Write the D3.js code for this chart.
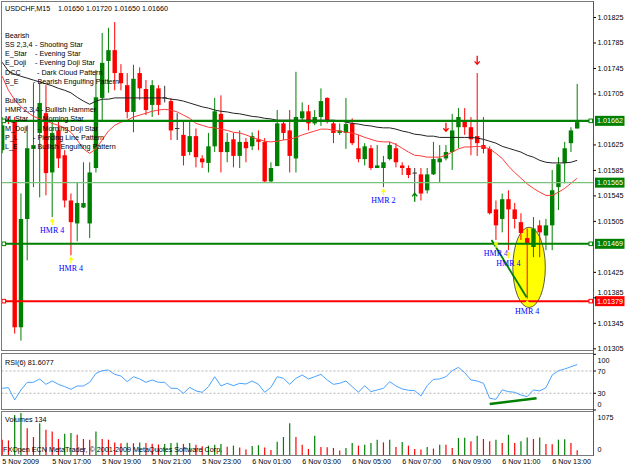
<!DOCTYPE html>
<html><head><meta charset="utf-8">
<script src="https://cdn.jsdelivr.net/npm/d3@7/dist/d3.min.js"></script>
<style>
body{margin:0;background:#fff;}
svg{display:block;font-family:"Liberation Sans",Arial,sans-serif;}
</style>
</head><body>
<svg id="chart" width="625" height="469"></svg>
<script>
// ---------------- DATA ----------------
const symbol = "USDCHF,M15";
const opens = [1.01616,1.01663,1.01663,1.01338,1.01508,1.01618,1.01643,1.01674,1.01581,1.01647,
1.01608,1.01537,1.01501,1.01526,1.01501,1.01588,1.01698,1.01756,1.01773,1.01737,
1.01718,1.01676,1.01737,1.01712,1.01687,1.01713,1.01698,1.01693,1.01650,1.01640,
1.01613,1.01638,1.01603,1.01596,1.01622,1.01673,1.01613,1.01633,1.01607,1.01629,
1.01622,1.01633,1.01629,1.01567,1.01591,1.01658,1.01647,1.01603,1.01666,1.01677,
1.01658,1.01668,1.01698,1.01658,1.01643,1.01643,1.01658,1.01619,1.01602,1.01619,
1.01588,1.01588,1.01602,1.01619,1.01592,1.01588,1.01580,1.01578,1.01553,1.01578,
1.01597,1.01603,1.01613,1.01652,1.01663,1.01652,1.01638,1.01624,1.01618,1.01523,
1.01508,1.01539,1.01523,1.01503,1.01478,1.01464,1.01498,1.01482,1.01498,1.01558,
1.01596,1.01627,1.01650];
const highs = [1.01668,1.01669,1.01668,1.01548,1.01655,1.01721,1.01721,1.01718,1.01663,1.01663,
1.01616,1.01548,1.01566,1.01597,1.01597,1.01742,1.01800,1.01808,1.01817,1.01751,
1.01737,1.01750,1.01746,1.01726,1.01726,1.01718,1.01717,1.01698,1.01674,1.01663,
1.01663,1.01650,1.01608,1.01643,1.01698,1.01702,1.01643,1.01643,1.01647,1.01635,
1.01644,1.01647,1.01635,1.01597,1.01679,1.01663,1.01679,1.01739,1.01691,1.01687,
1.01679,1.01713,1.01699,1.01663,1.01658,1.01698,1.01666,1.01640,1.01627,1.01624,
1.01624,1.01607,1.01629,1.01627,1.01597,1.01592,1.01588,1.01588,1.01588,1.01629,
1.01624,1.01624,1.01673,1.01682,1.01682,1.01668,1.01737,1.01668,1.01622,1.01537,
1.01548,1.01553,1.01533,1.01517,1.01493,1.01511,1.01506,1.01508,1.01585,1.01605,
1.01629,1.01652,1.01720];
const lows = [1.01611,1.01657,1.01328,1.01317,1.01443,1.01558,1.01542,1.01545,1.01511,1.01588,
1.01526,1.01451,1.01473,1.01525,1.01478,1.01581,1.01663,1.01706,1.01710,1.01710,
1.01666,1.01644,1.01695,1.01671,1.01668,1.01671,1.01691,1.01632,1.01632,1.01592,
1.01608,1.01589,1.01588,1.01581,1.01613,1.01581,1.01597,1.01589,1.01588,1.01597,
1.01616,1.01616,1.01566,1.01566,1.01591,1.01632,1.01581,1.01581,1.01663,1.01647,
1.01655,1.01654,1.01658,1.01627,1.01640,1.01618,1.01624,1.01597,1.01592,1.01585,
1.01588,1.01558,1.01600,1.01589,1.01577,1.01572,1.01548,1.01537,1.01548,1.01577,
1.01566,1.01600,1.01585,1.01619,1.01640,1.01608,1.01607,1.01611,1.01515,1.01475,
1.01487,1.01459,1.01493,1.01475,1.01383,1.01448,1.01448,1.01459,1.01459,1.01522,
1.01564,1.01613,1.01650];
const closes = [1.01655,1.01662,1.01338,1.01508,1.01619,1.01624,1.01690,1.01580,1.01643,1.01603,
1.01537,1.01503,1.01533,1.01533,1.01581,1.01699,1.01753,1.01773,1.01737,1.01721,
1.01676,1.01728,1.01713,1.01679,1.01718,1.01687,1.01698,1.01647,1.01650,1.01607,
1.01638,1.01605,1.01597,1.01622,1.01677,1.01613,1.01629,1.01607,1.01629,1.01619,
1.01638,1.01629,1.01567,1.01588,1.01658,1.01643,1.01607,1.01668,1.01677,1.01658,
1.01668,1.01693,1.01663,1.01643,1.01647,1.01657,1.01627,1.01602,1.01622,1.01588,
1.01592,1.01597,1.01624,1.01597,1.01588,1.01577,1.01580,1.01548,1.01578,1.01602,
1.01603,1.01613,1.01647,1.01668,1.01652,1.01633,1.01627,1.01618,1.01517,1.01498,
1.01539,1.01523,1.01508,1.01486,1.01470,1.01493,1.01487,1.01498,1.01553,1.01594,
1.01619,1.01647,1.01660];
const slowMA = [1.01754,1.01740,1.01735,1.01732,1.01729,1.01726,1.01723,1.01720,1.01717,1.01713,
1.01710,1.01706,1.01699,1.01693,1.01688,1.01693,1.01696,1.01696,1.01698,1.01698,
1.01698,1.01698,1.01698,1.01698,1.01698,1.01698,1.01698,1.01696,1.01695,1.01693,
1.01690,1.01687,1.01684,1.01682,1.01679,1.01677,1.01676,1.01674,1.01673,1.01671,
1.01669,1.01668,1.01666,1.01665,1.01663,1.01663,1.01663,1.01663,1.01663,1.01663,
1.01663,1.01663,1.01663,1.01663,1.01662,1.01660,1.01658,1.01657,1.01655,1.01654,
1.01652,1.01651,1.01651,1.01649,1.01646,1.01644,1.01641,1.01640,1.01638,1.01638,
1.01636,1.01636,1.01636,1.01636,1.01636,1.01636,1.01635,1.01633,1.01630,1.01627,
1.01622,1.01619,1.01616,1.01613,1.01608,1.01605,1.01600,1.01597,1.01596,1.01596,
1.01596,1.01597,1.01600];
const fastMA = [1.01732,1.01710,1.01695,1.01684,1.01676,1.01669,1.01665,1.01662,1.01658,1.01655,
1.01651,1.01644,1.01632,1.01618,1.01611,1.01618,1.01632,1.01646,1.01655,1.01660,
1.01663,1.01668,1.01671,1.01674,1.01677,1.01679,1.01680,1.01679,1.01676,1.01671,
1.01666,1.01658,1.01655,1.01652,1.01651,1.01649,1.01647,1.01644,1.01643,1.01640,
1.01636,1.01633,1.01630,1.01629,1.01630,1.01632,1.01633,1.01636,1.01640,1.01643,
1.01646,1.01649,1.01649,1.01647,1.01646,1.01644,1.01643,1.01640,1.01636,1.01633,
1.01630,1.01629,1.01629,1.01625,1.01619,1.01613,1.01608,1.01607,1.01605,1.01605,
1.01605,1.01608,1.01613,1.01618,1.01621,1.01621,1.01622,1.01621,1.01618,1.01611,
1.01603,1.01591,1.01581,1.01572,1.01563,1.01556,1.01550,1.01545,1.01545,1.01550,
1.01556,1.01564,1.01572];
const rsiValues = [38.9,40.1,18.0,36.0,49.7,49.7,55.7,46.1,52.1,46.1,
41.9,37.2,43.1,43.1,49.7,65.8,70.6,71.8,64.0,61.0,
50.9,59.8,55.7,49.7,53.9,49.7,49.7,38.9,38.9,30.0,
40.7,34.2,31.8,41.9,59.8,43.1,47.9,43.7,47.9,46.7,
52.1,46.1,31.8,40.7,59.8,56.9,46.1,56.9,62.8,55.7,
59.8,64.0,53.9,46.1,47.9,52.1,41.9,31.8,43.7,33.0,
36.0,38.9,50.9,43.1,37.8,35.4,34.8,25.2,43.7,55.1,
55.7,59.8,70.6,76.6,67.0,53.9,52.1,47.9,21.0,19.2,
36.0,33.0,31.8,27.0,24.0,36.0,34.2,40.1,62.8,70.6,
73.6,77.7,81.6077];
const volumes = [400,383,1025,1075,692,467,817,650,608,417,
550,567,525,417,400,608,417,400,330,310,
325,310,330,315,300,280,292,317,325,292,
317,275,233,250,275,290,220,250,200,150,
240,260,200,140,350,467,817,467,275,167,
500,217,210,192,125,192,317,250,275,317,
400,333,400,217,342,250,167,150,217,175,
275,270,192,442,450,358,500,417,358,400,
317,525,317,358,458,417,458,292,285,400,
410,317,134];
// 1.01665 and 1.01465 are hidden behind the level boxes in the reference
const priceTicks = [1.01305,1.01345,1.01385,1.01425,1.01505,1.01545,1.01585,1.01625,1.01705,1.01745,1.01785,1.01825];
const timeTickBars = [0,8,16,24,32,40,48,56,64,72,80,88];
const timeTickLabels = ["5 Nov 2009","5 Nov 17:00","5 Nov 19:00","5 Nov 21:00","5 Nov 23:00","6 Nov 01:00","6 Nov 03:00","6 Nov 05:00","6 Nov 07:00","6 Nov 09:00","6 Nov 11:00","6 Nov 13:00"];
const rsiTicks = [0,30,70,100];
const rsiLevels = [30,70];
const volumeTicks = [0,1075];
const levelPrices = [1.01662,1.01565,1.01469,1.01379];
const bearishCodes = ["SS 2,3,4","E_Star","E_Doji","DCC","S_E"];
const bearishNames = ["- Shooting Star","- Evening Star","- Evening Doji Star","- Dark Cloud Pattern","- Bearish Engulfing Pattern"];
const bullishCodes = ["HMR 2,3,4","M_Star","M_Doji","P_L","L_E"];
const bullishNames = ["- Bullish Hammer","- Morning Star","- Morning Doji Star","- Piercing Line Pattern","- Bullish Engulfing Pattern"];
const hammerBars = [8,11,61,79,81,84];
const hammerLabels = ["HMR 4","HMR 4","HMR 2","HMR 4","HMR 4","HMR 4"];
const upSignalBars = [66];   const upSignalPrices = [1.01542];
const downSignalBars = [71,76]; const downSignalPrices = [1.01652,1.01757];
const ellipseBar = 84.3, ellipsePrice = 1.01432, ellipseBars = 2.6, ellipseSpan = 0.00063;
const trendBars = [78.3,83.9], trendPrices = [1.01475,1.01385];
const rsiTrendBars = [78.0,85.5], rsiTrendValues = [10.8,21.0];
const watermark = "FXOpen ECN MetaTrader, \u00a9 2001-2009 MetaQuotes Software Corp.";

// ---------------- LAYOUT ----------------
const svg = d3.select("#chart");
const L = 1.5, R = 593.5;
const mainTop = 1.5, mainBot = 350.5, rsiTop = 353.5, rsiBot = 409.5, volTop = 411.5, volBot = 455.5;
const FS = 7.2;
const n = opens.length;
const x = d3.scaleLinear().domain([0, n-1]).range([2.2, 577.2]);
const y = d3.scaleLinear().domain([1.01305, 1.01825]).range([348.3, 17]);
const ry = d3.scaleLinear().domain([0,100]).range([410, 354.3]);
const vy = d3.scaleLinear().domain([0,1075]).range([volBot, 413]);
const fmt = d3.format(".5f");
const GREEN = "#008000", RED = "#ff0000";

const defs = svg.append("defs");
defs.append("clipPath").attr("id","cMain").append("rect").attr("x",L+0.5).attr("y",mainTop+0.5).attr("width",R-L-1).attr("height",mainBot-mainTop-1);
defs.append("clipPath").attr("id","cRsi").append("rect").attr("x",L+0.5).attr("y",rsiTop+0.5).attr("width",R-L-1).attr("height",rsiBot-rsiTop-1);
defs.append("clipPath").attr("id","cVol").append("rect").attr("x",L+0.5).attr("y",volTop+0.5).attr("width",R-L-1).attr("height",volBot-volTop-1);

[[mainTop,mainBot],[rsiTop,rsiBot],[volTop,volBot]].forEach(([t,b])=>{
  svg.append("rect").attr("x",L).attr("y",t).attr("width",R-L).attr("height",b-t)
    .attr("fill","#fff").attr("stroke","#7a7a7a").attr("stroke-width",1);
});
svg.append("line").attr("x1",R).attr("x2",R).attr("y1",mainTop).attr("y2",volBot).attr("stroke","#555").attr("stroke-width",1);

// ---------- MAIN PANEL ----------
const gm = svg.append("g").attr("clip-path","url(#cMain)");

gm.append("ellipse").attr("cx",x(ellipseBar)).attr("cy",y(ellipsePrice))
  .attr("rx",x(ellipseBar+ellipseBars)-x(ellipseBar))
  .attr("ry",y(ellipsePrice-ellipseSpan)-y(ellipsePrice))
  .attr("fill","#ffff00").attr("stroke","#333").attr("stroke-width",0.8);

const idx = d3.range(n);
const cColor = i => closes[i] > opens[i] ? GREEN : (closes[i] < opens[i] ? RED : "#333");
gm.selectAll("line.wick").data(idx).join("line").attr("class","wick")
  .attr("x1",i=>x(i)).attr("x2",i=>x(i))
  .attr("y1",i=>y(highs[i])).attr("y2",i=>y(lows[i]))
  .attr("stroke",cColor).attr("stroke-width",1);
const bw = 4.4;
gm.selectAll("rect.body").data(idx.filter(i=>opens[i]!==closes[i])).join("rect").attr("class","body")
  .attr("x",i=>x(i)-bw/2).attr("width",bw)
  .attr("y",i=>y(Math.max(opens[i],closes[i])))
  .attr("height",i=>Math.max(1.2, Math.abs(y(opens[i])-y(closes[i]))))
  .attr("fill",cColor);
gm.selectAll("line.doji").data(idx.filter(i=>opens[i]===closes[i])).join("line").attr("class","doji")
  .attr("x1",i=>x(i)-bw/2).attr("x2",i=>x(i)+bw/2)
  .attr("y1",i=>y(opens[i])).attr("y2",i=>y(opens[i]))
  .attr("stroke","#333").attr("stroke-width",1);

const line = arr => d3.line().x((d,i)=>x(i)).y(d=>y(d))(arr);
gm.append("path").attr("d",line(slowMA)).attr("fill","none").attr("stroke","#222").attr("stroke-width",1);
gm.append("path").attr("d",line(fastMA)).attr("fill","none").attr("stroke","#ff3a3a").attr("stroke-width",1);

const levelColors = [GREEN,"#79c279",GREEN,RED];
const levelWidths = [2.4,1.4,2,2];
levelPrices.forEach((p,k)=>{
  gm.append("line").attr("x1",L).attr("x2",R).attr("y1",y(p)).attr("y2",y(p))
    .attr("stroke",levelColors[k]).attr("stroke-width",levelWidths[k]);
  if (k!==1) {
    [3.8, 590.8].forEach(cx=>{
      gm.append("rect").attr("x",cx-1.8).attr("y",y(p)-1.8).attr("width",3.6).attr("height",3.6)
        .attr("fill","#fff").attr("stroke",levelColors[k]).attr("stroke-width",1);
    });
  }
});

gm.append("line").attr("x1",x(trendBars[0])).attr("y1",y(trendPrices[0]))
  .attr("x2",x(trendBars[1])).attr("y2",y(trendPrices[1]))
  .attr("stroke",GREEN).attr("stroke-width",1.8);

hammerBars.forEach((b,k)=>{
  const cx = x(b), yl = y(lows[b]);
  gm.append("path").attr("d",`M${cx},${yl+2.5}L${cx},${yl+8}M${cx-1.8},${yl+4.5}L${cx},${yl+2.5}L${cx+1.8},${yl+4.5}`)
    .attr("fill","none").attr("stroke","#ffff00").attr("stroke-width",1.3);
  gm.append("text").attr("x",cx).attr("y",yl+13).attr("dy","0.35em").attr("text-anchor","middle")
    .style("font-family","'Liberation Serif','Times New Roman',serif").attr("font-size",8)
    .attr("fill","#0000ff").text(hammerLabels[k]);
});
upSignalBars.forEach((b,k)=>{
  const cx=x(b), cy=y(upSignalPrices[k]);
  gm.append("path").attr("d",`M${cx},${cy+4.5}L${cx},${cy-4}M${cx-2.6},${cy-1}L${cx},${cy-4}L${cx+2.6},${cy-1}`)
    .attr("fill","none").attr("stroke",GREEN).attr("stroke-width",1.3);
});
downSignalBars.forEach((b,k)=>{
  const cx=x(b), cy=y(downSignalPrices[k]);
  gm.append("path").attr("d",`M${cx},${cy-4.5}L${cx},${cy+4}M${cx-2.6},${cy+1}L${cx},${cy+4}L${cx+2.6},${cy+1}`)
    .attr("fill","none").attr("stroke",RED).attr("stroke-width",1.3);
});

// title & legend
const last = n-1;
svg.append("text").attr("x",5).attr("y",8.5).attr("dy","0.35em").attr("font-size",FS).text(symbol);
svg.append("text").attr("x",58).attr("y",8.5).attr("dy","0.35em").attr("font-size",FS)
  .text([opens[last],highs[last],lows[last],closes[last]].map(fmt).join(" "));
const legend = svg.append("g").attr("font-size",FS).attr("fill","#000");
const bearDash = [35,35,35,37,33], bullDash = [41,38,38,33,33];
legend.append("text").attr("x",5).attr("y",35).attr("dy","0.35em").text("Bearish");
bearishCodes.forEach((c,k)=>{
  const yy = 44.3 + k*9.3;
  legend.append("text").attr("x",5).attr("y",yy).attr("dy","0.35em").text(c);
  legend.append("text").attr("x",bearDash[k]).attr("y",yy).attr("dy","0.35em").text(bearishNames[k]);
});
legend.append("text").attr("x",5).attr("y",100).attr("dy","0.35em").text("Bullish");
bullishCodes.forEach((c,k)=>{
  const yy = 109.3 + k*9.4;
  legend.append("text").attr("x",5).attr("y",yy).attr("dy","0.35em").text(c);
  legend.append("text").attr("x",bullDash[k]).attr("y",yy).attr("dy","0.35em").text(bullishNames[k]);
});

// level price boxes (drawn before the axis so tick labels stay on top)
const boxColors = [GREEN,GREEN,GREEN,RED];
levelPrices.forEach((p,k)=>{
  svg.append("rect").attr("x",595).attr("y",y(p)-5).attr("width",29.5).attr("height",10).attr("fill",boxColors[k]);
  svg.append("text").attr("x",597).attr("y",y(p)).attr("dy","0.35em").attr("font-size",FS).attr("fill","#fff").text(fmt(p));
});

// price axis
const ax = svg.append("g").attr("transform",`translate(${R},0)`)
  .call(d3.axisRight(y).tickValues(priceTicks).tickFormat(fmt).tickSize(2.5).tickPadding(1.5));
ax.select(".domain").remove();
ax.selectAll("line").attr("stroke","#000");
ax.selectAll("text").attr("font-size",FS).style("font-family","'Liberation Sans',Arial,sans-serif").attr("fill","#000")
  .attr("y", d=>{
    const ty = y(d);
    let shift = 0;
    levelPrices.forEach(p=>{
      const dd = ty - y(p);
      if (Math.abs(dd) < 9) shift = dd < 0 ? -(9 + dd) : (9 - dd);
    });
    return shift;
  });

// ---------- RSI PANEL ----------
const gr = svg.append("g").attr("clip-path","url(#cRsi)");
rsiLevels.forEach(v=>{
  gr.append("line").attr("x1",L).attr("x2",R).attr("y1",ry(v)).attr("y2",ry(v))
    .attr("stroke","#a0a0a0").attr("stroke-width",0.8).attr("stroke-dasharray","2,2");
});
gr.append("path").attr("d",d3.line().x((d,i)=>x(i)).y(d=>ry(d))(rsiValues))
  .attr("fill","none").attr("stroke","#4aa3ff").attr("stroke-width",1);
gr.append("line").attr("x1",x(rsiTrendBars[0])).attr("y1",ry(rsiTrendValues[0]))
  .attr("x2",x(rsiTrendBars[1])).attr("y2",ry(rsiTrendValues[1]))
  .attr("stroke",GREEN).attr("stroke-width",2.4);
svg.append("text").attr("x",5).attr("y",362).attr("dy","0.35em").attr("font-size",FS)
  .text("RSI(6) " + d3.format(".4f")(rsiValues[last]));
rsiTicks.forEach(v=>{
  const yy = Math.max(rsiTop+7, Math.min(rsiBot-5.5, ry(v)));
  svg.append("line").attr("x1",R).attr("x2",R+2.5).attr("y1",ry(v)).attr("y2",ry(v)).attr("stroke","#000");
  svg.append("text").attr("x",R+4).attr("y",yy).attr("dy","0.35em").attr("font-size",FS).text(v);
});

// ---------- VOLUME PANEL ----------
const gv = svg.append("g").attr("clip-path","url(#cVol)");
gv.selectAll("line.vol").data(idx).join("line").attr("class","vol")
  .attr("x1",i=>x(i)).attr("x2",i=>x(i)).attr("y1",vy(0)).attr("y2",i=>vy(volumes[i]))
  .attr("stroke",i=> i>0 && volumes[i]>volumes[i-1] ? GREEN : RED).attr("stroke-width",1.2);
svg.append("text").attr("x",5).attr("y",419).attr("dy","0.35em").attr("font-size",FS)
  .text("Volumes " + volumes[last]);
volumeTicks.forEach(v=>{
  const yy = Math.max(volTop+5.5, Math.min(volBot-6.5, vy(v)));
  svg.append("text").attr("x",R+4).attr("y",yy).attr("dy","0.35em").attr("font-size",FS).text(v);
});
svg.append("text").attr("x",3).attr("y",449).attr("dy","0.35em").attr("font-size",FS).text(watermark);

// ---------- TIME AXIS ----------
const tx = svg.append("g").attr("transform",`translate(0,${volBot})`)
  .call(d3.axisBottom(x).tickValues(timeTickBars).tickFormat((d,i)=>timeTickLabels[i]).tickSize(0).tickPadding(3));
tx.select(".domain").remove();
tx.selectAll("text").attr("text-anchor","start").attr("font-size",FS)
  .style("font-family","'Liberation Sans',Arial,sans-serif").attr("fill","#000")
  .attr("dy","0.71em").attr("x",-0.5);
</script>
</body></html>
